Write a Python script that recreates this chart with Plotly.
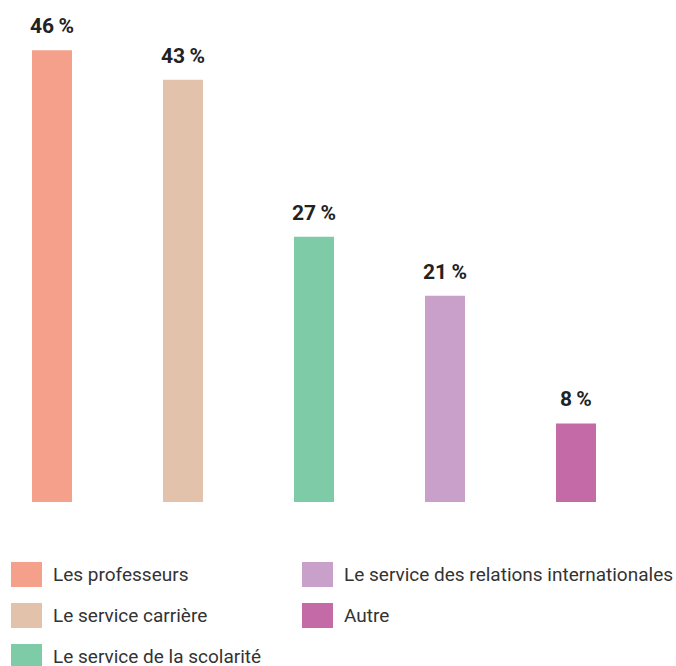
import plotly.graph_objects as go

categories = ["Les professeurs", "Le service carrière", "Le service de la scolarité",
              "Le service des relations internationales", "Autre"]
values = [46, 43, 27, 21, 8]
colors = ["#F5A08B", "#E3C2AC", "#7ECBA7", "#C8A0CA", "#C46AA6"]

W, H = 676, 666
plot_bottom = 502
px_per_unit = 131.0
x0 = -52.0 / px_per_unit
x1 = x0 + W / px_per_unit
ymax = plot_bottom / 9.82

fig = go.Figure()
xs = list(range(len(categories)))
fig.add_trace(go.Bar(
    x=xs, y=values, marker=dict(color=colors, line=dict(width=0)),
    width=40 / px_per_unit, showlegend=False, hoverinfo="skip",
))

annotations = []
for xi, v in zip(xs, values):
    annotations.append(dict(
        x=xi, y=v, xref="x", yref="y", text=f"<b>{v}\u2009%</b>",
        showarrow=False, yanchor="bottom", yshift=10,
        font=dict(family="Roboto", size=21, color="#222222"),
    ))

def py(p):
    return (plot_bottom - p) / plot_bottom

shapes = []
legend_pos = [(11, 562), (11, 603), (11, 644), (302, 562), (302, 603)]
for (lx, ly), name, c in zip(legend_pos, categories, colors):
    shapes.append(dict(type="rect", xref="paper", yref="paper",
                       x0=lx / W, x1=(lx + 31) / W, y0=py(ly + 25), y1=py(ly),
                       fillcolor=c, line=dict(width=0)))
    annotations.append(dict(
        x=(lx + 40) / W, y=py(ly + 12.5), xref="paper", yref="paper",
        text=name, showarrow=False, xanchor="left", yanchor="middle",
        font=dict(family="Roboto", size=19, color="#333333"),
    ))

fig.update_layout(
    width=W, height=H,
    margin=dict(l=0, r=0, t=0, b=H - plot_bottom),
    paper_bgcolor="white", plot_bgcolor="white",
    xaxis=dict(range=[x0, x1], visible=False, fixedrange=True),
    yaxis=dict(range=[0, ymax], visible=False, fixedrange=True),
    annotations=annotations, shapes=shapes,
)

fig.write_html("out.html", config={"displayModeBar": False},
               post_script="document.body.style.margin='0px';document.body.style.overflow='hidden';")
